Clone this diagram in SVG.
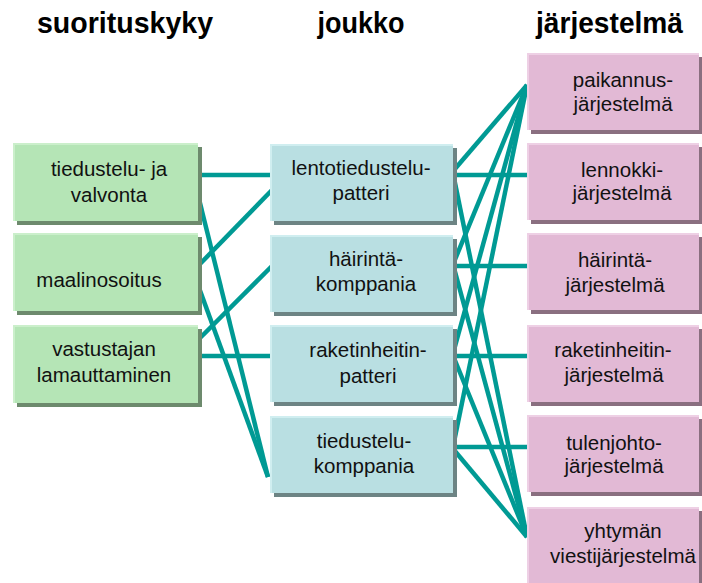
<svg xmlns="http://www.w3.org/2000/svg" width="702" height="583" viewBox="0 0 702 583">
  <style>
    .hdr { font-family: "Liberation Sans", Arial, sans-serif; font-weight: bold; font-size: 29px; fill: #000; text-anchor: middle; }
    .lbl { font-family: "Liberation Sans", Arial, sans-serif; font-size: 20.5px; fill: #111; text-anchor: middle; }
    .link { stroke: #009a94; stroke-width: 4.5; fill: none; }
    .g .sh { fill: #6d8a6d; } .g .hi { fill: #cbefcb; } .g .bg { fill: #b5e5b6; }
    .b .sh { fill: #6d8484; } .b .hi { fill: #d0eef0; } .b .bg { fill: #b9dfe2; }
    .p .sh { fill: #8a6f80; } .p .hi { fill: #eed0e5; } .p .bg { fill: #e2b9d5; }
  </style>
  <rect width="702" height="583" fill="#fff"/>

  <!-- column headings -->
  <text class="hdr" x="125" y="33" textLength="176" lengthAdjust="spacingAndGlyphs">suorituskyky</text>
  <text class="hdr" x="361" y="33" textLength="87" lengthAdjust="spacingAndGlyphs">joukko</text>
  <text class="hdr" x="609.5" y="33" textLength="147" lengthAdjust="spacingAndGlyphs">järjestelmä</text>

  <!-- connectors -->
  <g id="connectors" class="link">
    <line x1="198" y1="175" x2="272" y2="175"/>
    <line x1="198" y1="195" x2="268" y2="477"/>
    <line x1="198" y1="266" x2="272" y2="190"/>
    <line x1="198" y1="285" x2="268" y2="477"/>
    <line x1="198" y1="340" x2="272" y2="266"/>
    <line x1="198" y1="356" x2="272" y2="356"/>

    <line x1="454" y1="170" x2="527" y2="85"/>
    <line x1="454" y1="175" x2="529" y2="175"/>
    <line x1="454" y1="178" x2="527" y2="537"/>
    <line x1="454" y1="262" x2="527" y2="85"/>
    <line x1="454" y1="266" x2="529" y2="266"/>
    <line x1="454" y1="268" x2="527" y2="537"/>
    <line x1="454" y1="350" x2="527" y2="85"/>
    <line x1="454" y1="356" x2="529" y2="356"/>
    <line x1="454" y1="358" x2="527" y2="537"/>
    <line x1="454" y1="442" x2="527" y2="85"/>
    <line x1="454" y1="447" x2="529" y2="447"/>
    <line x1="454" y1="450" x2="527" y2="537"/>
  </g>

  <!-- capabilities -->
  <g id="tiedustelu-ja-valvonta" class="g">
    <rect class="sh" x="17" y="147" width="185" height="78"/>
    <rect class="hi" x="13" y="143" width="185" height="78"/>
    <rect class="bg" x="15" y="145" width="183" height="76"/>
    <text class="lbl" x="109" y="176">tiedustelu- ja</text>
    <text class="lbl" x="109" y="202">valvonta</text>
  </g>
  <g id="maalinosoitus" class="g">
    <rect class="sh" x="17" y="237" width="185" height="78"/>
    <rect class="hi" x="13" y="233" width="185" height="78"/>
    <rect class="bg" x="15" y="235" width="183" height="76"/>
    <text class="lbl" x="99" y="287">maalinosoitus</text>
  </g>
  <g id="vastustajan-lamauttaminen" class="g">
    <rect class="sh" x="17" y="329" width="185" height="78"/>
    <rect class="hi" x="13" y="325" width="185" height="78"/>
    <rect class="bg" x="15" y="327" width="183" height="76"/>
    <text class="lbl" x="104" y="356">vastustajan</text>
    <text class="lbl" x="104" y="382">lamauttaminen</text>
  </g>

  <!-- units -->
  <g id="lentotiedustelupatteri" class="b">
    <rect class="sh" x="274" y="148" width="183" height="77"/>
    <rect class="hi" x="270" y="144" width="183" height="77"/>
    <rect class="bg" x="272" y="146" width="181" height="75"/>
    <text class="lbl" x="361" y="175">lentotiedustelu-</text>
    <text class="lbl" x="361" y="200">patteri</text>
  </g>
  <g id="hairintakomppania" class="b">
    <rect class="sh" x="274" y="239" width="183" height="77"/>
    <rect class="hi" x="270" y="235" width="183" height="77"/>
    <rect class="bg" x="272" y="237" width="181" height="75"/>
    <text class="lbl" x="366" y="266">häirintä-</text>
    <text class="lbl" x="366" y="291">komppania</text>
  </g>
  <g id="raketinheitinpatteri" class="b">
    <rect class="sh" x="274" y="329" width="183" height="77"/>
    <rect class="hi" x="270" y="325" width="183" height="77"/>
    <rect class="bg" x="272" y="327" width="181" height="75"/>
    <text class="lbl" x="368" y="357">raketinheitin-</text>
    <text class="lbl" x="368" y="383">patteri</text>
  </g>
  <g id="tiedustelukomppania" class="b">
    <rect class="sh" x="274" y="420" width="183" height="77"/>
    <rect class="hi" x="270" y="416" width="183" height="77"/>
    <rect class="bg" x="272" y="418" width="181" height="75"/>
    <text class="lbl" x="364" y="448">tiedustelu-</text>
    <text class="lbl" x="364" y="473">komppania</text>
  </g>

  <!-- systems -->
  <g id="paikannusjarjestelma" class="p">
    <rect class="sh" x="531" y="57" width="172" height="77"/>
    <rect class="hi" x="527" y="53" width="172" height="77"/>
    <rect class="bg" x="529" y="55" width="170" height="75"/>
    <text class="lbl" x="623" y="87">paikannus-</text>
    <text class="lbl" x="623" y="111">järjestelmä</text>
  </g>
  <g id="lennokkijarjestelma" class="p">
    <rect class="sh" x="531" y="147" width="172" height="77"/>
    <rect class="hi" x="527" y="143" width="172" height="77"/>
    <rect class="bg" x="529" y="145" width="170" height="75"/>
    <text class="lbl" x="622" y="177">lennokki-</text>
    <text class="lbl" x="622" y="200">järjestelmä</text>
  </g>
  <g id="hairintajarjestelma" class="p">
    <rect class="sh" x="531" y="237" width="172" height="77"/>
    <rect class="hi" x="527" y="233" width="172" height="77"/>
    <rect class="bg" x="529" y="235" width="170" height="75"/>
    <text class="lbl" x="615" y="267">häirintä-</text>
    <text class="lbl" x="615" y="292">järjestelmä</text>
  </g>
  <g id="raketinheitinjarjestelma" class="p">
    <rect class="sh" x="531" y="329" width="172" height="77"/>
    <rect class="hi" x="527" y="325" width="172" height="77"/>
    <rect class="bg" x="529" y="327" width="170" height="75"/>
    <text class="lbl" x="613" y="357">raketinheitin-</text>
    <text class="lbl" x="614" y="382">järjestelmä</text>
  </g>
  <g id="tulenjohtojarjestelma" class="p">
    <rect class="sh" x="531" y="419" width="172" height="77"/>
    <rect class="hi" x="527" y="415" width="172" height="77"/>
    <rect class="bg" x="529" y="417" width="170" height="75"/>
    <text class="lbl" x="614" y="450">tulenjohto-</text>
    <text class="lbl" x="614" y="473">järjestelmä</text>
  </g>
  <g id="yhtyman-viestijarjestelma" class="p">
    <rect class="sh" x="531" y="511" width="172" height="77"/>
    <rect class="hi" x="527" y="507" width="172" height="77"/>
    <rect class="bg" x="529" y="509" width="170" height="75"/>
    <text class="lbl" x="623" y="538">yhtymän</text>
    <text class="lbl" x="623" y="563">viestijärjestelmä</text>
  </g>
</svg>
